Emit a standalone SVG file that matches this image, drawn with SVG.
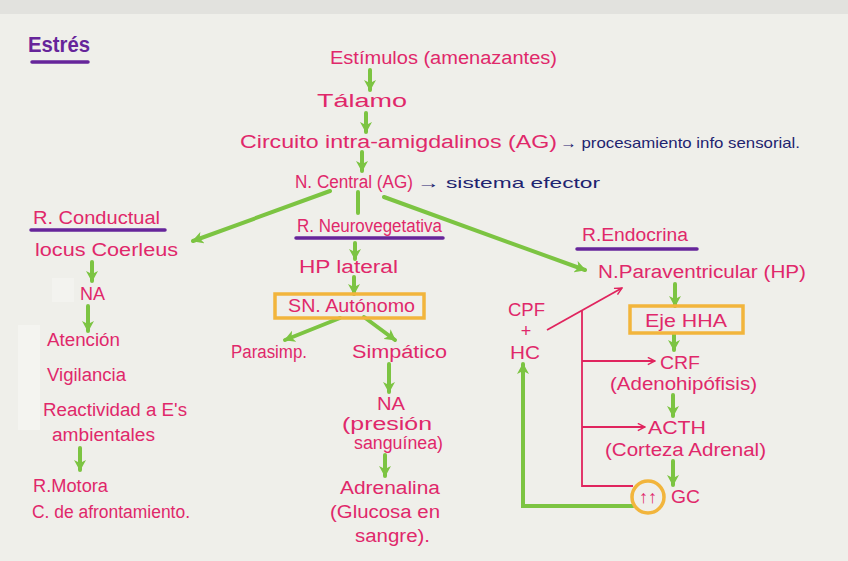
<svg xmlns="http://www.w3.org/2000/svg" width="848" height="561" viewBox="0 0 848 561">
<defs>
<marker id="ga" viewBox="0 0 12 12" refX="10" refY="6" markerWidth="12" markerHeight="12" markerUnits="userSpaceOnUse" orient="auto">
<path d="M0,0 L11,6 L0,12 L3,6 Z" fill="#7cc442"/>
</marker>
<marker id="ra" viewBox="0 0 10 10" refX="9" refY="5" markerWidth="9" markerHeight="9" markerUnits="userSpaceOnUse" orient="auto">
<path d="M1,1 L9,5 L1,9" fill="none" stroke="#e0245e" stroke-width="1.6"/>
</marker>
</defs>
<style>
.t{font-family:"Liberation Sans","DejaVu Sans",sans-serif;font-size:18px;fill:#e0286a}
.b{font-family:"Liberation Sans","DejaVu Sans",sans-serif;font-size:15px;fill:#1e2470}
.h{font-family:"Liberation Sans","DejaVu Sans",sans-serif;font-size:22px;fill:#66259a;font-weight:bold}
.g{stroke:#7cc442;stroke-width:4;fill:none;stroke-linecap:round}
.u{stroke:#66259a;stroke-width:3.5;stroke-linecap:round}
.r{stroke:#e0245e;stroke-width:1.8;fill:none}
.y{stroke:#f2b53c;stroke-width:3.5;fill:none}
</style>
<rect width="848" height="561" fill="#efefea"/>
<rect width="848" height="14" fill="#e2e2de"/>
<rect x="18" y="325" width="22" height="105" fill="#f4f4f0"/>
<rect x="52" y="278" width="22" height="24" fill="#f3f3ef"/>

<g id="title">
<text class="h" x="28" y="52" textLength="62" lengthAdjust="spacingAndGlyphs">Estrés</text>
<line class="u" x1="32" y1="62" x2="88" y2="62"/>
</g>

<g id="connectors">
<line class="g" x1="370" y1="70" x2="370" y2="90" marker-end="url(#ga)"/>
<line class="g" x1="366" y1="113" x2="366" y2="132" marker-end="url(#ga)"/>
<line class="g" x1="362" y1="152" x2="362" y2="171" marker-end="url(#ga)"/>
<line class="g" x1="330" y1="191" x2="193" y2="241" marker-end="url(#ga)"/>
<line class="g" x1="358" y1="192" x2="358" y2="213"/>
<line class="g" x1="384" y1="197" x2="585" y2="270" marker-end="url(#ga)"/>
<line class="g" x1="92" y1="262" x2="92" y2="281" marker-end="url(#ga)"/>
<line class="g" x1="88" y1="306" x2="88" y2="331" marker-end="url(#ga)"/>
<line class="g" x1="80" y1="448" x2="80" y2="470" marker-end="url(#ga)"/>
<line class="g" x1="355" y1="243" x2="355" y2="259" marker-end="url(#ga)"/>
<line class="g" x1="354" y1="277" x2="354" y2="294" marker-end="url(#ga)"/>
<line class="g" x1="340" y1="318" x2="285" y2="340" marker-end="url(#ga)"/>
<line class="g" x1="364" y1="317" x2="395" y2="340" marker-end="url(#ga)"/>
<line class="g" x1="389" y1="364" x2="389" y2="392" marker-end="url(#ga)"/>
<line class="g" x1="385" y1="455" x2="385" y2="476" marker-end="url(#ga)"/>
<line class="g" x1="675" y1="284" x2="675" y2="306" marker-end="url(#ga)"/>
<line class="g" x1="674" y1="334" x2="674" y2="350" marker-end="url(#ga)"/>
<line class="g" x1="673" y1="395" x2="673" y2="416" marker-end="url(#ga)"/>
<line class="g" x1="673" y1="461" x2="673" y2="485" marker-end="url(#ga)"/>
<polyline class="g" points="633,506 523,506 523,364" marker-end="url(#ga)"/>
<line class="r" x1="547" y1="330" x2="622" y2="288" marker-end="url(#ra)"/>
<polyline class="r" points="582,311 582,486 633,486"/>
<line class="r" x1="582" y1="361" x2="655" y2="361" marker-end="url(#ra)"/>
<line class="r" x1="582" y1="427" x2="645" y2="427" marker-end="url(#ra)"/>
</g>

<g id="estimulos"><text class="t" x="330" y="64" textLength="227" lengthAdjust="spacingAndGlyphs">Estímulos (amenazantes)</text></g>
<g id="talamo"><text class="t" x="317" y="107" textLength="90" lengthAdjust="spacingAndGlyphs">Tálamo</text></g>
<g id="circuito">
<text class="t" x="240" y="148" textLength="317" lengthAdjust="spacingAndGlyphs">Circuito intra-amigdalinos (AG)</text>
<text class="b" x="560" y="148" textLength="240" lengthAdjust="spacingAndGlyphs">→ procesamiento info sensorial.</text>
</g>
<g id="ncentral">
<text class="t" x="295" y="188" textLength="118" lengthAdjust="spacingAndGlyphs">N. Central (AG)</text>
<text class="b" x="417" y="188" textLength="183" lengthAdjust="spacingAndGlyphs">→ sistema efector</text>
</g>

<g id="r-conductual">
<text class="t" x="33" y="224" textLength="127" lengthAdjust="spacingAndGlyphs">R. Conductual</text>
<line class="u" x1="31" y1="230" x2="165" y2="230"/>
</g>
<g id="locus"><text class="t" x="35" y="256" textLength="143" lengthAdjust="spacingAndGlyphs">locus Coerleus</text></g>
<g id="na1"><text class="t" x="80" y="300" textLength="25" lengthAdjust="spacingAndGlyphs">NA</text></g>
<g id="atencion">
<text class="t" x="47" y="346" textLength="73" lengthAdjust="spacingAndGlyphs">Atención</text>
<text class="t" x="47" y="381" textLength="79" lengthAdjust="spacingAndGlyphs">Vigilancia</text>
<text class="t" x="43" y="416" textLength="144" lengthAdjust="spacingAndGlyphs">Reactividad a E's</text>
<text class="t" x="52" y="441" textLength="103" lengthAdjust="spacingAndGlyphs">ambientales</text>
</g>
<g id="rmotora">
<text class="t" x="33" y="492" textLength="75" lengthAdjust="spacingAndGlyphs">R.Motora</text>
<text class="t" x="32" y="518" textLength="158" lengthAdjust="spacingAndGlyphs">C. de afrontamiento.</text>
</g>

<g id="r-neurovegetativa">
<text class="t" x="297" y="232" textLength="145" lengthAdjust="spacingAndGlyphs">R. Neurovegetativa</text>
<line class="u" x1="296" y1="238" x2="443" y2="238"/>
</g>
<g id="hp-lateral"><text class="t" x="299" y="273" textLength="99" lengthAdjust="spacingAndGlyphs">HP lateral</text></g>
<g id="sn-autonomo">
<rect class="y" x="275" y="294" width="149" height="24"/>
<text class="t" x="288" y="312" textLength="127" lengthAdjust="spacingAndGlyphs">SN. Autónomo</text>
</g>
<g id="parasimp"><text class="t" x="231" y="358" textLength="76" lengthAdjust="spacingAndGlyphs">Parasimp.</text></g>
<g id="simpatico"><text class="t" x="352" y="358" textLength="95" lengthAdjust="spacingAndGlyphs">Simpático</text></g>
<g id="na2">
<text class="t" x="377" y="410" textLength="28" lengthAdjust="spacingAndGlyphs">NA</text>
<text class="t" x="342" y="430" textLength="90" lengthAdjust="spacingAndGlyphs">(presión</text>
<text class="t" x="354" y="449" textLength="89" lengthAdjust="spacingAndGlyphs">sanguínea)</text>
</g>
<g id="adrenalina">
<text class="t" x="340" y="494" textLength="100" lengthAdjust="spacingAndGlyphs">Adrenalina</text>
<text class="t" x="330" y="518" textLength="110" lengthAdjust="spacingAndGlyphs">(Glucosa en</text>
<text class="t" x="355" y="542" textLength="75" lengthAdjust="spacingAndGlyphs">sangre).</text>
</g>

<g id="r-endocrina">
<text class="t" x="582" y="241" textLength="106" lengthAdjust="spacingAndGlyphs">R.Endocrina</text>
<line class="u" x1="577" y1="249" x2="697" y2="249"/>
</g>
<g id="n-paraventricular"><text class="t" x="598" y="278" textLength="208" lengthAdjust="spacingAndGlyphs">N.Paraventricular (HP)</text></g>
<g id="eje-hha">
<rect class="y" x="630" y="306" width="113" height="27"/>
<text class="t" x="645" y="327" textLength="82" lengthAdjust="spacingAndGlyphs">Eje HHA</text>
</g>
<g id="crf">
<text class="t" x="660" y="369" textLength="40" lengthAdjust="spacingAndGlyphs">CRF</text>
<text class="t" x="610" y="390" textLength="147" lengthAdjust="spacingAndGlyphs">(Adenohipófisis)</text>
</g>
<g id="acth">
<text class="t" x="648" y="434" textLength="58" lengthAdjust="spacingAndGlyphs">ACTH</text>
<text class="t" x="605" y="456" textLength="161" lengthAdjust="spacingAndGlyphs">(Corteza Adrenal)</text>
</g>
<g id="gc">
<circle class="y" cx="648" cy="497" r="16"/>
<text class="t" x="648" y="503" text-anchor="middle" font-size="17">↑↑</text>
<text class="t" x="671" y="503" textLength="29" lengthAdjust="spacingAndGlyphs">GC</text>
</g>
<g id="cpf-hc">
<text class="t" x="508" y="316" textLength="37" lengthAdjust="spacingAndGlyphs">CPF</text>
<text class="t" x="526" y="337" text-anchor="middle" font-size="11">+</text>
<text class="t" x="510" y="359" textLength="30" lengthAdjust="spacingAndGlyphs">HC</text>
</g>
</svg>
